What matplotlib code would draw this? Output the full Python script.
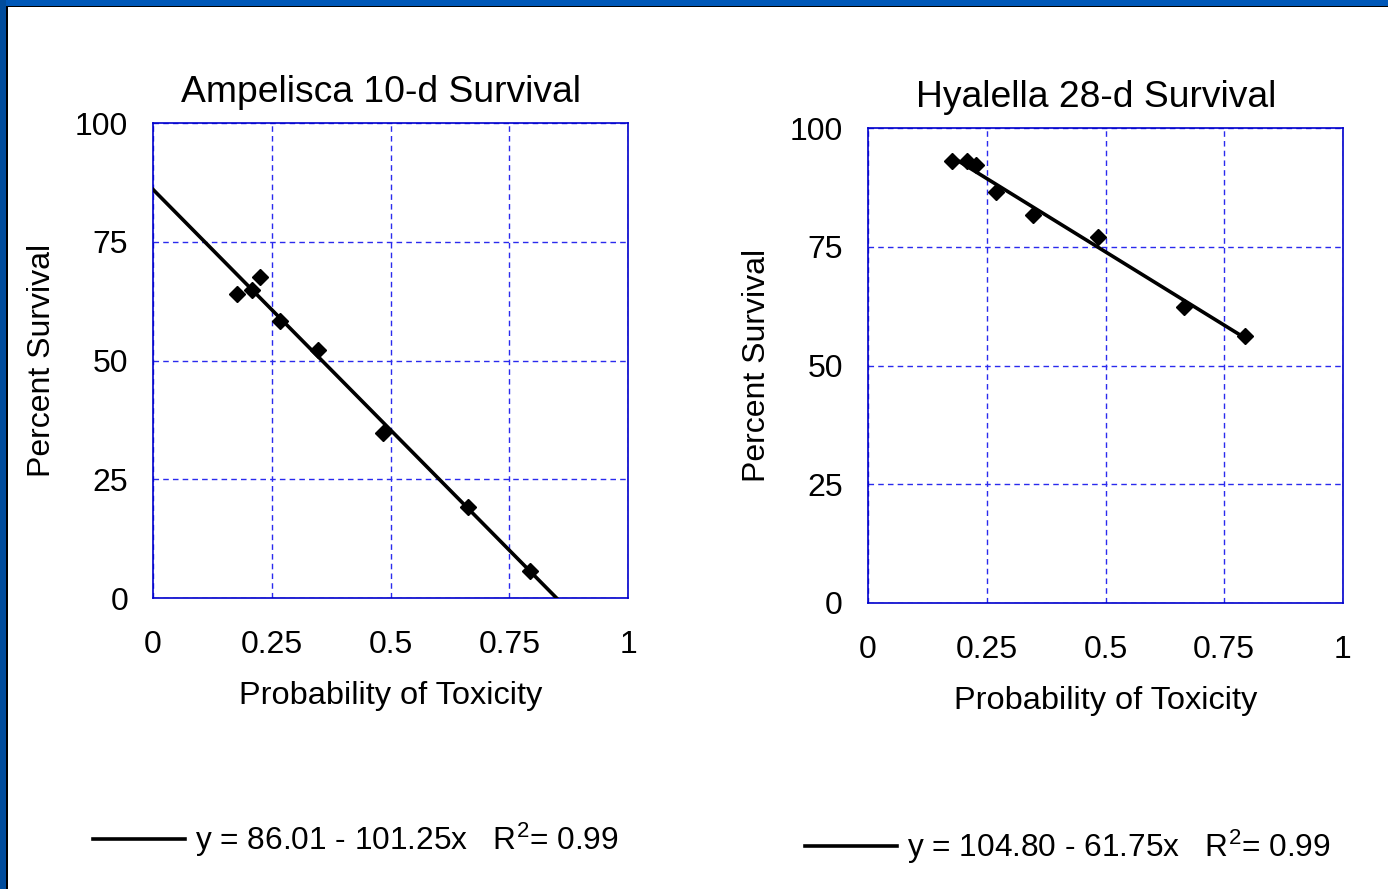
import matplotlib
matplotlib.use("Agg")
import matplotlib.pyplot as plt
from matplotlib.lines import Line2D
from matplotlib.patches import Rectangle

plt.rcParams["font.family"] = ["Liberation Sans", "DejaVu Sans"]
plt.rcParams["mathtext.fontset"] = "custom"
plt.rcParams["mathtext.rm"] = "Liberation Sans"
plt.rcParams["mathtext.it"] = "Liberation Sans"

# Ampelisca 10-d survival vs probability of toxicity
amp_x = [0.177, 0.208, 0.226, 0.268, 0.348, 0.485, 0.664, 0.793]
amp_y = [64.0, 64.8, 67.6, 58.4, 52.2, 34.8, 19.2, 5.7]
amp_fit = (86.01, -101.25)
amp_fit_x = [0.0, 0.8495]
amp_label = r"y = 86.01 - 101.25x   R$^{\mathrm{2}}$= 0.99"

# Hyalella 28-d survival vs probability of toxicity
hya_x = [0.177, 0.209, 0.227, 0.270, 0.347, 0.485, 0.665, 0.794]
hya_y = [93.1, 93.0, 92.2, 86.6, 81.7, 77.1, 62.3, 56.2]
hya_fit = (104.80, -61.75)
hya_fit_x = [0.177, 0.794]
hya_label = r"y = 104.80 - 61.75x   R$^{\mathrm{2}}$= 0.99"

x_ticks = [0, 0.25, 0.5, 0.75, 1]
x_tick_labels = ["0", "0.25", "0.5", "0.75", "1"]
y_ticks = [0, 25, 50, 75, 100]
y_tick_labels = ["0", "25", "50", "75", "100"]

fig = plt.figure(figsize=(13.88, 8.89), dpi=100)
fig.patch.set_facecolor("white")

# blue frame along top and left edge
fig.add_artist(Rectangle((0, 1 - 6 / 889), 1, 6 / 889, transform=fig.transFigure,
                         facecolor="#0058b8", edgecolor="none"))
fig.add_artist(Rectangle((0, 1 - 7 / 889), 1, 1.5 / 889, transform=fig.transFigure,
                         facecolor="black", edgecolor="none"))
fig.add_artist(Rectangle((0, 0), 6 / 1388, 1, transform=fig.transFigure,
                         facecolor="#004c9c", edgecolor="none"))
fig.add_artist(Rectangle((6 / 1388, 0), 1.5 / 1388, 1 - 6 / 889, transform=fig.transFigure,
                         facecolor="black", edgecolor="none"))

panels = [
    ([153 / 1388, 1 - 598 / 889, 475 / 1388, 475 / 889], "Ampelisca 10-d Survival",
     amp_x, amp_y, amp_fit, amp_fit_x, amp_label, (93 / 1388, 1 - 840 / 889)),
    ([868 / 1388, 1 - 603 / 889, 475 / 1388, 475 / 889], "Hyalella 28-d Survival",
     hya_x, hya_y, hya_fit, hya_fit_x, hya_label, (805 / 1388, 1 - 847 / 889)),
]

for rect, title, xs, ys, fit, fit_x, label, leg_pos in panels:
    ax = fig.add_axes(rect)
    ax.set_xlim(0, 1)
    ax.set_ylim(0, 100)
    ax.set_xticks(x_ticks)
    ax.set_xticklabels(x_tick_labels)
    ax.set_yticks(y_ticks)
    ax.set_yticklabels(y_tick_labels)
    ax.tick_params(length=0, labelsize=23)
    ax.tick_params(axis="x", pad=23)
    ax.tick_params(axis="y", pad=18)
    ax.grid(True, color="#2a2aee", linestyle=(0, (4, 3)), linewidth=1.0)
    ax.set_axisbelow(True)
    for sp in ax.spines.values():
        sp.set_color("#0000cc")
        sp.set_linewidth(1.2)

    fit_y = [fit[0] + fit[1] * v for v in fit_x]
    ax.plot(fit_x, fit_y, color="black", linewidth=2.6, zorder=3)
    ax.plot(xs, ys, linestyle="none", marker="D", markersize=8.2,
            color="black", zorder=4)

    ax.set_title(title, fontsize=26.8, pad=15, x=0.48)
    ax.set_xlabel("Probability of Toxicity", fontsize=23.4, labelpad=15)
    ax.set_ylabel("Percent Survival", fontsize=23, labelpad=13)

    fig.legend(handles=[Line2D([], [], color="black", linewidth=2.6)], labels=[label],
               loc="center left", bbox_to_anchor=leg_pos, bbox_transform=fig.transFigure,
               frameon=False, fontsize=22.8, handlelength=2.9, handletextpad=0.33,
               borderpad=0, borderaxespad=0)

fig.savefig("out.png", dpi=100)
